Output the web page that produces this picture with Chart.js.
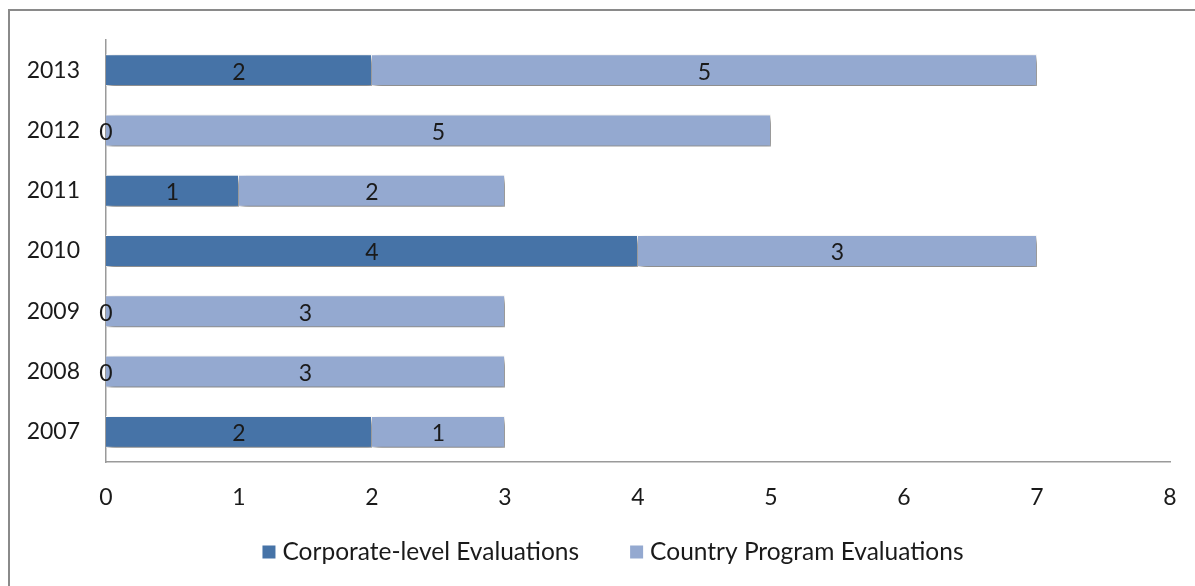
<!DOCTYPE html>
<html>
<head>
<meta charset="utf-8">
<script src="https://cdn.jsdelivr.net/npm/chart.js@4.4.1/dist/chart.umd.min.js"></script>
<style>
html,body{margin:0;padding:0;background:#fff;overflow:hidden;}
#wrap{position:relative;width:1195px;height:586px;overflow:hidden;}
#frame{position:absolute;left:8px;top:9px;width:1400px;height:800px;border:2px solid #8a8a8a;box-sizing:border-box;}
canvas{position:absolute;left:0;top:0;}
</style>
</head>
<body>
<div id="wrap">
<div id="frame"></div>
<canvas id="c" width="1195" height="586"></canvas>
</div>
<script>
const categories = ['2013','2012','2011','2010','2009','2008','2007'];
const corporate = [2,0,1,4,0,0,2];
const country = [5,5,2,3,3,3,1];
const xTicks = [0,1,2,3,4,5,6,7,8];

const FONT = 'Lato, "Open Sans", sans-serif';

const labelPlugin = {
  id:'vals',
  afterDatasetsDraw(chart){
    const ctx = chart.ctx;
    ctx.save();
    ctx.font = '23px ' + FONT;
    ctx.fillStyle = '#1a1a1a';
    ctx.textAlign = 'center';
    ctx.textBaseline = 'middle';
    chart.data.datasets.forEach((ds,di)=>{
      const meta = chart.getDatasetMeta(di);
      meta.data.forEach((bar,i)=>{
        const v = ds.data[i];
        const cx = (bar.x + bar.base)/2;
        ctx.fillText(String(v), cx, bar.y+2);
      });
    });
    ctx.restore();
  }
};
const shadowPlugin = {
  id:'shadow',
  beforeDatasetDraw(chart){
    const ctx = chart.ctx;
    ctx.save();
    ctx.shadowColor = 'rgba(0,0,0,0.5)';
    ctx.shadowBlur = 6;
    ctx.shadowOffsetX = 3;
    ctx.shadowOffsetY = 4;
  },
  afterDatasetDraw(chart){
    chart.ctx.restore();
  }
};
const legendPlugin = {
  id:'customLegend',
  afterDraw(chart){
    const ctx = chart.ctx;
    ctx.save();
    ctx.font = '24.5px ' + FONT;
    ctx.textBaseline = 'middle';
    ctx.textAlign = 'left';
    const box = 13, gapText = 7, gapItem = 51, cy = 552, centerX = 613;
    const items = chart.data.datasets.map(ds=>({label:ds.label,color:ds.backgroundColor,w:ctx.measureText(ds.label).width}));
    let total = 0;
    items.forEach((it,i)=>{ total += box + gapText + it.w + (i<items.length-1?gapItem:0); });
    let x = centerX - total/2;
    items.forEach(it=>{
      ctx.fillStyle = it.color;
      ctx.fillRect(x, cy - box/2, box, box);
      ctx.fillStyle = '#1a1a1a';
      ctx.fillText(it.label, x + box + gapText, cy);
      x += box + gapText + it.w + gapItem;
    });
    ctx.restore();
  }
};

new Chart(document.getElementById('c'), {
  type:'bar',
  data:{
    labels:categories,
    datasets:[
      {label:'Corporate-level Evaluations', data:corporate, backgroundColor:'#4673a7', borderColor:'#ffffff', borderWidth:1, categoryPercentage:1, barPercentage:0.53},
      {label:'Country Program Evaluations', data:country, backgroundColor:'#94a9d0', borderColor:'#ffffff', borderWidth:1, categoryPercentage:1, barPercentage:0.53}
    ]
  },
  options:{
    indexAxis:'y',
    responsive:false,
    animation:false,
    layout:{padding:{left:0,right:25,top:40,bottom:64}},
    scales:{
      x:{
        stacked:true, min:0, max:8,
        afterBuildTicks(s){ s.ticks = xTicks.map(v=>({value:v})); },
        grid:{display:false, drawTicks:false},
        border:{display:true,color:'#9a9a9a',width:1.5},
        ticks:{font:{size:23,family:FONT},color:'#1a1a1a',padding:22},
        afterFit(s){ s.height = 60; s.paddingRight = 0; s.paddingLeft = 0; }
      },
      y:{
        stacked:true,
        grid:{display:false, drawTicks:false},
        border:{display:true,color:'#9a9a9a',width:1.5},
        ticks:{font:{size:23,family:FONT},color:'#1a1a1a',padding:26},
        afterFit(s){ s.width = 106; s.paddingTop = 0; s.paddingBottom = 0; }
      }
    },
    plugins:{
      legend:{display:false},
      tooltip:{enabled:false}
    }
  },
  plugins:[shadowPlugin,labelPlugin,legendPlugin]
});
</script>
</body>
</html>
